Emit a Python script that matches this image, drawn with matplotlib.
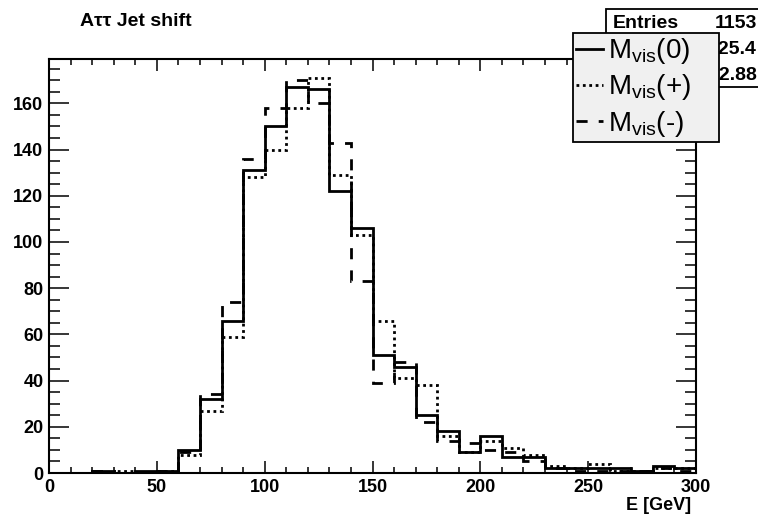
import matplotlib
matplotlib.use("Agg")
import matplotlib.pyplot as plt
import numpy as np
from matplotlib.lines import Line2D
from matplotlib.patches import Rectangle

# ---- data ----
bin_edges = list(range(0, 310, 10))
m_vis_0 = [0, 0, 1, 0, 1, 1, 10, 32, 66, 131, 150, 167, 166, 122, 106, 51, 46, 25, 18, 9, 16, 7, 7, 2, 2, 2, 2, 1, 3, 2]
m_vis_plus = [0, 0, 0, 1, 0, 1, 8, 27, 59, 128, 140, 158, 171, 129, 103, 66, 41, 38, 16, 9, 14, 11, 8, 3, 2, 4, 1, 1, 2, 2]
m_vis_minus = [0, 0, 1, 0, 0, 1, 9, 34, 74, 136, 158, 170, 160, 143, 83, 39, 48, 22, 14, 13, 10, 9, 5, 2, 1, 1, 1, 1, 2, 1]
legend_labels = [r"M$_{\mathregular{vis}}$(0)", r"M$_{\mathregular{vis}}$(+)", r"M$_{\mathregular{vis}}$(-)"]
x_ticks = [0, 50, 100, 150, 200, 250, 300]
y_ticks = [0, 20, 40, 60, 80, 100, 120, 140, 160]
stats_names = ["Entries", "Mean", "RMS"]
stats_values = ["1153", "125.4", "32.88"]
title = "A\u03c4\u03c4 Jet shift"
xlabel = "E [GeV]"

plt.rcParams["font.family"] = ["Liberation Sans", "DejaVu Sans"]
plt.rcParams["mathtext.fontset"] = "custom"
plt.rcParams["mathtext.rm"] = "Liberation Sans"
plt.rcParams["mathtext.it"] = "Liberation Sans"
plt.rcParams["mathtext.default"] = "regular"

W, H = 758, 515
fig = plt.figure(figsize=(W / 100, H / 100), dpi=100)
fig.patch.set_facecolor("white")

def fx(px):
    return px / W

def fy(py):
    return 1 - py / H

ax = fig.add_axes([fx(49), fy(473), fx(696) - fx(49), fy(59) - fy(473)])
ax.set_xlim(0, 300)
ax.set_ylim(0, 179.2)

edges = np.array(bin_edges)
lw = 2.0
ax.stairs(m_vis_0, edges, baseline=None, color="black", lw=lw, linestyle="-", zorder=3)
ax.stairs(m_vis_plus, edges, baseline=None, color="black", lw=lw, linestyle=(0, (1, 1.3)), zorder=2)
ax.stairs(m_vis_minus, edges, baseline=None, color="black", lw=lw, linestyle=(0, (4, 4)), zorder=2)

for s in ax.spines.values():
    s.set_linewidth(1.5)
    s.set_color("black")

ax.set_xticks(x_ticks)
ax.set_xticks(np.arange(0, 301, 10), minor=True)
ax.set_yticks(y_ticks)
ax.set_yticks(np.arange(0, 180, 5), minor=True)
ax.set_xticklabels([str(v) for v in x_ticks])
ax.set_yticklabels([str(v) for v in y_ticks])

ax.tick_params(axis="x", which="major", direction="in", length=8.6, width=1.1, top=True, bottom=True, pad=4)
ax.tick_params(axis="x", which="minor", direction="in", length=4.3, width=1.1, top=True, bottom=True)
ax.tick_params(axis="y", which="major", direction="in", length=14.4, width=1.1, left=True, right=True, pad=4)
ax.tick_params(axis="y", which="minor", direction="in", length=7.9, width=1.1, left=True, right=True)
for lab in ax.get_xticklabels() + ax.get_yticklabels():
    lab.set_fontweight("bold")
    lab.set_fontsize(13)

fig.text(fx(691), fy(505), xlabel, ha="right", va="center", fontsize=13, fontweight="bold")
fig.text(fx(80), fy(22), title, ha="left", va="center", fontsize=14, fontweight="bold")

# stats box
rect = Rectangle((fx(606), fy(87)), 1.0, fy(9) - fy(87), transform=fig.transFigure,
                 facecolor="white", edgecolor="black", lw=1.3, zorder=5)
fig.add_artist(rect)
for i, (n, v) in enumerate(zip(stats_names, stats_values)):
    yy = fy(23 + i * 26.5)
    fig.text(fx(613), yy, n, ha="left", va="center", fontsize=14, fontweight="bold", zorder=6)
    fig.text(fx(757), yy, v, ha="right", va="center", fontsize=14, fontweight="bold", zorder=6)

# legend
handles = [
    Line2D([], [], color="black", lw=lw, linestyle="-"),
    Line2D([], [], color="black", lw=lw, linestyle=(0, (1, 1.3))),
    Line2D([], [], color="black", lw=lw, linestyle=(0, (4, 4))),
]
leg = fig.legend(handles, legend_labels, loc="upper left",
                 bbox_to_anchor=(fx(573), fy(143), fx(719) - fx(573), fy(33) - fy(143)),
                 bbox_transform=fig.transFigure, mode="expand",
                 fontsize=20, frameon=True, fancybox=False, shadow=False,
                 handlelength=0.95, handletextpad=0.2, borderpad=0.12,
                 labelspacing=0.22, borderaxespad=0.0)
leg.get_frame().set_facecolor("#f0f0f0")
leg.get_frame().set_edgecolor("black")
leg.get_frame().set_linewidth(1.3)
leg.get_frame().set_alpha(1.0)
leg.set_zorder(10)

fig.savefig("out.png", dpi=100)
